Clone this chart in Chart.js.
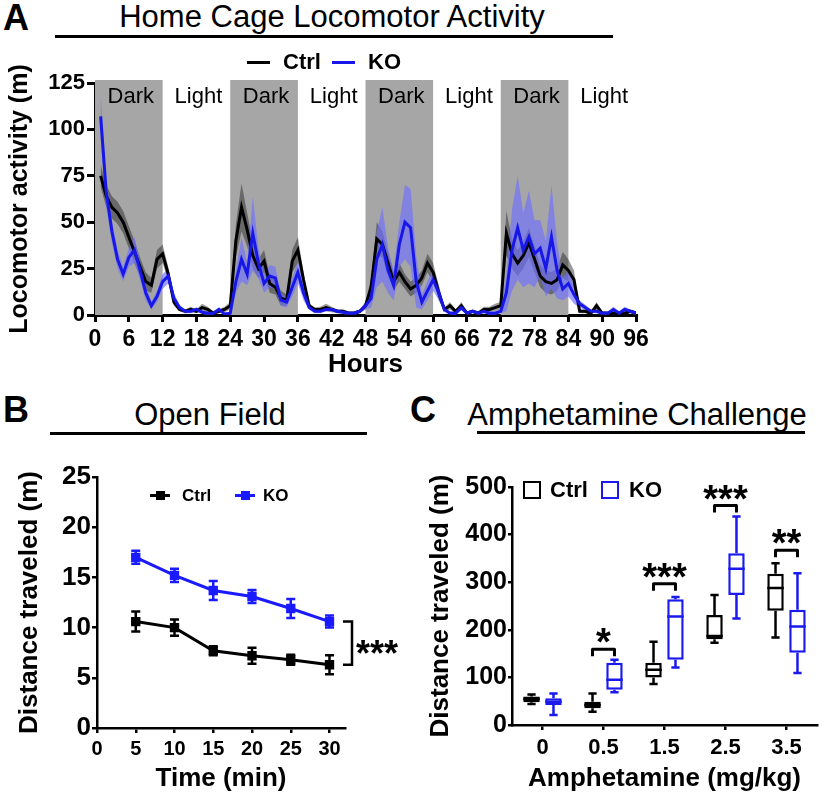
<!DOCTYPE html>
<html>
<head>
<meta charset="utf-8">
<title>Locomotor activity</title>
<script src="https://cdn.jsdelivr.net/npm/chart.js@4.4.1/dist/chart.umd.min.js"></script>
<style>
  body { margin: 0; background: #fff; }
  #fig { position: relative; width: 826px; height: 801px; overflow: hidden;
         font-family: "Liberation Sans", Arial, sans-serif; color: #000; }
  #fig canvas { position: absolute; }
  .t { position: absolute; white-space: nowrap; }
  .letter { font-size: 36px; line-height: 36px; font-weight: bold; }
  .title { font-size: 31px; line-height: 31px; transform: translateX(-50%); }
  .rule { position: absolute; height: 3px; background: #000; }
  .key22 { font-size: 22px; line-height: 22px; font-weight: bold; }
  .key17 { font-size: 17px; line-height: 17px; font-weight: bold; }
  .dash { position: absolute; height: 3px; }
  .sq { position: absolute; width: 9px; height: 9px; }
  .box { position: absolute; width: 18px; height: 18px; box-sizing: border-box; border: 2.5px solid #000; background: #fff; }
</style>
</head>
<body>
<div id="fig">
  <canvas id="chartA" width="660" height="340" style="left:0;top:40px"></canvas>
  <canvas id="chartB" width="410" height="360" style="left:0;top:440px"></canvas>
  <canvas id="chartC" width="416" height="360" style="left:410px;top:440px"></canvas>

  <!-- panel A headings -->
  <div class="t letter" style="left:3px;top:0">A</div>
  <div class="t title" style="left:332px;top:1px">Home Cage Locomotor Activity</div>
  <div class="rule" style="left:55px;top:35px;width:558px"></div>
  <div class="dash" style="left:247px;top:61px;width:23px;background:#000"></div>
  <div class="t key22" style="left:283px;top:51px">Ctrl</div>
  <div class="dash" style="left:332px;top:61px;width:23px;background:#1717e8"></div>
  <div class="t key22" style="left:368px;top:51px">KO</div>

  <!-- panel B headings -->
  <div class="t letter" style="left:3px;top:392px">B</div>
  <div class="t title" style="left:210px;top:399px">Open Field</div>
  <div class="rule" style="left:50px;top:432px;width:317px"></div>
  <div class="dash" style="left:150px;top:494px;width:20px;background:#000"></div>
  <div class="sq" style="left:155.5px;top:491px;background:#000"></div>
  <div class="t key17" style="left:182px;top:487px">Ctrl</div>
  <div class="dash" style="left:235px;top:494px;width:20px;background:#1a1aff"></div>
  <div class="sq" style="left:240.5px;top:491px;background:#1a1aff"></div>
  <div class="t key17" style="left:263px;top:487px">KO</div>

  <!-- panel C headings -->
  <div class="t letter" style="left:410px;top:392px">C</div>
  <div class="t title" style="left:637px;top:399px">Amphetamine Challenge</div>
  <div class="rule" style="left:477px;top:431px;width:328px"></div>
  <div class="box" style="left:523px;top:481px"></div>
  <div class="t key22" style="left:550px;top:479px">Ctrl</div>
  <div class="box" style="left:601px;top:481px;border-color:#1a1aee"></div>
  <div class="t key22" style="left:629px;top:479px">KO</div>
</div>

<script>
Chart.defaults.font.family = '"Liberation Sans", Arial, sans-serif'
Chart.defaults.color = '#000'
Chart.defaults.animation = false
Chart.defaults.events = []
Chart.defaults.plugins.legend.display = false
Chart.defaults.plugins.tooltip.enabled = false

// ---------------- panel A: hourly activity, hours 1..96 ----------------
const hours = Array.from({length: 96}, (_, i) => i + 1)
const ctrlMean = [75, 64, 58, 55, 50, 42, 34, 26, 18, 16, 30, 33,
  22, 7, 3, 2, 3, 2, 4, 3, 1, 2, 3, 5,
  40, 58, 46, 32, 25, 29, 17, 15, 9, 8, 29, 35,
  19, 5, 3, 3, 4, 3, 2, 2, 1, 1, 2, 5,
  15, 41, 38, 28, 18, 23, 18, 14, 16, 20, 28, 23,
  12, 3, 5, 2, 5, 1, 2, 1, 3, 3, 4, 5,
  44, 33, 28, 32, 39, 30, 21, 18, 17, 19, 27, 24,
  19, 2, 2, 1, 5, 1, 1, 1, 1, 1, 2, 1]
const ctrlSem = [6, 6, 6, 6, 6, 6, 6, 5, 5, 4, 5, 5,
  4, 2, 1, 1, 1.5, 1, 2, 1.5, 1, 1, 1.5, 2,
  9, 13, 9, 7, 5, 6, 5, 4, 4, 3, 6, 7,
  4, 1.5, 1, 1.5, 2, 1.5, 1, 1, 1, 1, 1, 2,
  5, 9, 7, 6, 5, 5, 4, 4, 4, 4, 5, 5,
  4, 1, 2, 1, 2, 1, 1, 1, 1.5, 1.5, 2, 2,
  12, 8, 7, 7, 8, 7, 6, 6, 6, 6, 7, 6,
  5, 1, 1, 1, 2, 1, 1, 1, 1, 1, 1, 1]
const koMean = [107, 66, 45, 30, 22, 31, 35, 24, 12, 5, 10, 18,
  21, 9, 4, 2, 2, 3, 1.5, 1, 1, 3, 0.5, 1,
  18, 30, 22, 44, 28, 17, 21, 20, 8, 7, 15, 23,
  12, 4, 2, 2, 3, 3, 2, 1.5, 1, 1, 2, 5,
  9, 30, 38, 24, 16, 38, 50, 47, 18, 7, 13, 19,
  12, 3, 1, 1, 4, 1, 2, 1, 2, 1, 1, 2,
  12, 35, 47, 35, 42, 33, 36, 25, 42, 24, 14, 17,
  11, 6, 4, 2, 2, 1, 1, 3, 1, 3, 2, 1]
const koSem = [12, 8, 6, 5, 4, 5, 7, 5, 4, 2, 3, 4,
  4, 3, 1.5, 1, 1, 1, 1, 1, 1, 1, 0.5, 1,
  6, 12, 6, 20, 8, 5, 6, 6, 3, 3, 5, 6,
  4, 1, 1, 1, 1, 1, 1, 1, 1, 1, 1, 2,
  5, 15, 20, 12, 8, 12, 20, 21, 14, 4, 5, 6,
  4, 1, 1, 1, 1.5, 1, 1, 1, 1, 1, 1, 1,
  10, 22, 28, 20, 25, 18, 15, 15, 28, 15, 6, 7,
  5, 2, 1.5, 1, 1, 1, 1, 1.5, 1, 1.5, 1, 1]
const darkStarts = [0, 24, 48, 72]
const cycleLabels = ['Dark', 'Light', 'Dark', 'Light', 'Dark', 'Light', 'Dark', 'Light']

// ---------------- panel B: open field ----------------
const ofTime = [5, 10, 15, 20, 25, 30]
const ofCtrl = [10.6, 10.0, 7.7, 7.2, 6.8, 6.3]
const ofCtrlSem = [1.0, 0.8, 0.45, 0.8, 0.5, 0.95]
const ofKo = [17.0, 15.2, 13.7, 13.1, 11.9, 10.6]
const ofKoSem = [0.65, 0.65, 0.95, 0.65, 0.95, 0.6]
const ofSig = '***'

// ---------------- panel C: amphetamine challenge ----------------
const doses = ['0', '0.5', '1.5', '2.5', '3.5']
const ctrlMin = [44, 28, 86, 173, 184]
const ctrlQ1 = [48, 35, 100, 180, 240]
const ctrlMed = [55, 42, 116, 187, 288]
const ctrlQ3 = [60, 49, 131, 231, 318]
const ctrlMax = [64, 66, 175, 273, 340]
const koMin = [21, 69, 121, 224, 109]
const koQ1 = [42, 74, 137, 273, 152]
const koMed = [49, 95, 228, 328, 207]
const koQ3 = [56, 131, 264, 361, 242]
const koMax = [66, 137, 269, 438, 319]
const sigText = ['', '*', '***', '***', '**']
const sigAt = [null, 159, 297, 461, 367]

const FONT = '"Liberation Sans", Arial, sans-serif'
const axisLook = (w, tl) => ({
  border: {color: '#000', width: w},
  grid: {drawOnChartArea: false, color: '#000', lineWidth: w, tickLength: tl}
})

// shaded dark phases + Dark/Light labels
const lightCycle = {
  id: 'lightCycle',
  beforeDatasetsDraw(chart) {
    const {ctx, scales: {x, y}} = chart
    ctx.save()
    ctx.fillStyle = '#a6a6a6'
    darkStarts.forEach(s => {
      const x0 = x.getPixelForValue(s)
      const x1 = x.getPixelForValue(s + 12)
      ctx.fillRect(x0, y.top - 3, x1 - x0, y.bottom - y.top + 3)
    })
    ctx.fillStyle = '#000'
    ctx.font = '22px ' + FONT
    ctx.textAlign = 'center'
    ctx.textBaseline = 'middle'
    cycleLabels.forEach((t, i) => ctx.fillText(t, x.getPixelForValue(i * 12 + 6) + 2, y.top + 14))
    ctx.restore()
  }
}

const pts = (mean, sem, sign) => mean.map((v, i) => ({x: hours[i], y: v + sign * (sem ? sem[i] : 0)}))
const bandEdge = {borderColor: 'rgba(0,0,0,0)', borderWidth: 0, pointRadius: 0}

const chartA = new Chart(document.getElementById('chartA'), {
  type: 'line',
  data: {
    datasets: [
      {label: 'Ctrl low', data: pts(ctrlMean, ctrlSem, -1), fill: false, order: 5, ...bandEdge},
      {label: 'Ctrl high', data: pts(ctrlMean, ctrlSem, 1), fill: 0, backgroundColor: 'rgba(30,30,30,0.45)', order: 4, ...bandEdge},
      {label: 'KO low', data: pts(koMean, koSem, -1), fill: false, order: 3, ...bandEdge},
      {label: 'KO high', data: pts(koMean, koSem, 1), fill: 2, backgroundColor: 'rgba(110,110,255,0.65)', order: 2, ...bandEdge},
      {label: 'Ctrl', data: pts(ctrlMean, null, 0), borderColor: '#000', borderWidth: 3, pointRadius: 0, order: 1},
      {label: 'KO', data: pts(koMean, null, 0), borderColor: '#1717e8', borderWidth: 3, pointRadius: 0, order: 0},
    ],
  },
  options: {
    responsive: false,
    layout: {autoPadding: false, padding: {top: 43, right: 24, left: 0, bottom: 0}},
    scales: {
      x: {
        type: 'linear', min: 0, max: 96, z: 1,
        ...axisLook(3, 7),
        ticks: {stepSize: 6, autoSkip: false, maxRotation: 0, padding: 4, font: {size: 23, weight: 'bold'}},
        title: {display: true, text: 'Hours', font: {size: 26, weight: 'bold'}, padding: {top: 0, bottom: 0}},
        afterFit: s => { s.height = 65 },
      },
      y: {
        min: 0, max: 125, z: 1,
        ...axisLook(3, 8),
        ticks: {stepSize: 25, padding: 2, font: {size: 22, weight: 'bold'}},
        title: {display: true, text: 'Locomotor activity (m)', font: {size: 25, weight: 'bold'}, padding: {top: 5, bottom: 0}},
        afterFit: s => { s.width = 95 },
      },
    },
  },
  plugins: [lightCycle],
})

// vertical SEM bars for panel B
const errorBars = {
  id: 'errorBars',
  afterDatasetsDraw(chart) {
    const {ctx, scales: {y}} = chart
    ctx.save()
    ctx.lineWidth = 2.5
    chart.data.datasets.forEach((ds, i) => {
      ctx.strokeStyle = ds.borderColor
      chart.getDatasetMeta(i).data.forEach((pt, j) => {
        const top = y.getPixelForValue(ds.data[j].y + ds.errors[j])
        const bot = y.getPixelForValue(ds.data[j].y - ds.errors[j])
        ctx.beginPath()
        ctx.moveTo(pt.x, top); ctx.lineTo(pt.x, bot)
        ctx.moveTo(pt.x - 4.5, top); ctx.lineTo(pt.x + 4.5, top)
        ctx.moveTo(pt.x - 4.5, bot); ctx.lineTo(pt.x + 4.5, bot)
        ctx.stroke()
      })
    })
    ctx.restore()
  }
}

const ofBracket = {
  id: 'ofBracket',
  afterDraw(chart) {
    const {ctx, chartArea, scales: {y}} = chart
    const last = ofTime.length - 1
    const yTop = y.getPixelForValue(ofKo[last])
    const yBot = y.getPixelForValue(ofCtrl[last])
    const xr = chartArea.right + 7
    ctx.save()
    ctx.strokeStyle = '#000'
    ctx.lineWidth = 2.5
    ctx.beginPath()
    ctx.moveTo(xr - 9, yTop); ctx.lineTo(xr, yTop); ctx.lineTo(xr, yBot); ctx.lineTo(xr - 9, yBot)
    ctx.stroke()
    ctx.fillStyle = '#000'
    ctx.font = 'bold 36px ' + FONT
    ctx.textAlign = 'left'
    ctx.textBaseline = 'alphabetic'
    ctx.fillText(ofSig, xr + 4, (yTop + yBot) / 2 + 2 + 21)
    ctx.restore()
  }
}

const chartB = new Chart(document.getElementById('chartB'), {
  type: 'line',
  data: {
    datasets: [
      {label: 'Ctrl', data: ofTime.map((t, i) => ({x: t, y: ofCtrl[i]})), errors: ofCtrlSem,
        borderColor: '#000', backgroundColor: '#000', borderWidth: 3, pointStyle: 'rect', pointRadius: 4.5},
      {label: 'KO', data: ofTime.map((t, i) => ({x: t, y: ofKo[i]})), errors: ofKoSem,
        borderColor: '#1a1aff', backgroundColor: '#1a1aff', borderWidth: 3, pointStyle: 'rect', pointRadius: 4.5},
    ],
  },
  options: {
    responsive: false,
    layout: {autoPadding: false, padding: {top: 37, right: 65, left: 0, bottom: 0}},
    scales: {
      x: {
        type: 'linear', min: 0, max: 32,
        ...axisLook(2.5, 5),
        ticks: {stepSize: 5, includeBounds: false, maxRotation: 0, padding: 4, font: {size: 20, weight: 'bold'}},
        afterBuildTicks: s => { s.ticks = s.ticks.filter(t => t.value <= 30) },
        title: {display: true, text: 'Time (min)', font: {size: 26, weight: 'bold'}, padding: {top: 0, bottom: 6}},
        afterFit: s => { s.height = 72 },
      },
      y: {
        min: 0, max: 25,
        ...axisLook(2.5, 5),
        ticks: {stepSize: 5, padding: 1, font: {size: 26, weight: 'bold'}},
        title: {display: true, text: 'Distance traveled (m)', font: {size: 26, weight: 'bold'}, padding: {top: 14, bottom: 0}},
        afterFit: s => { s.width = 97 },
      },
    },
  },
  plugins: [errorBars, ofBracket],
})

// whiskers + medians on top of the floating bars, then significance brackets
const boxWhiskers = {
  id: 'boxWhiskers',
  afterDatasetsDraw(chart) {
    const {ctx, scales: {y}} = chart
    ctx.save()
    ctx.lineWidth = 2.5
    chart.data.datasets.forEach((ds, i) => {
      ctx.strokeStyle = ds.borderColor
      chart.getDatasetMeta(i).data.forEach((bar, j) => {
        const half = bar.width / 2
        const cap = bar.width / 4
        const yMed = y.getPixelForValue(ds.med[j])
        const yQ1 = y.getPixelForValue(ds.data[j][0])
        const yQ3 = y.getPixelForValue(ds.data[j][1])
        const yMin = y.getPixelForValue(ds.min[j])
        const yMax = y.getPixelForValue(ds.max[j])
        ctx.beginPath()
        ctx.moveTo(bar.x - half, yMed); ctx.lineTo(bar.x + half, yMed)
        ctx.moveTo(bar.x, yQ3); ctx.lineTo(bar.x, yMax)
        ctx.moveTo(bar.x - cap, yMax); ctx.lineTo(bar.x + cap, yMax)
        ctx.moveTo(bar.x, yQ1); ctx.lineTo(bar.x, yMin)
        ctx.moveTo(bar.x - cap, yMin); ctx.lineTo(bar.x + cap, yMin)
        ctx.stroke()
      })
    })
    // significance brackets between Ctrl and KO boxes
    const m0 = chart.getDatasetMeta(0).data
    const m1 = chart.getDatasetMeta(1).data
    ctx.strokeStyle = '#000'
    ctx.fillStyle = '#000'
    ctx.lineWidth = 3
    ctx.lineJoin = 'round'
    ctx.font = 'bold 38px ' + FONT
    ctx.textAlign = 'center'
    ctx.textBaseline = 'alphabetic'
    sigText.forEach((txt, j) => {
      if (!txt) return
      const yb = y.getPixelForValue(sigAt[j])
      ctx.beginPath()
      ctx.moveTo(m0[j].x, yb + 7); ctx.lineTo(m0[j].x, yb); ctx.lineTo(m1[j].x, yb); ctx.lineTo(m1[j].x, yb + 7)
      ctx.stroke()
      ctx.fillText(txt, (m0[j].x + m1[j].x) / 2, yb + 6)
    })
    ctx.restore()
  }
}

const chartC = new Chart(document.getElementById('chartC'), {
  type: 'bar',
  data: {
    labels: doses,
    datasets: [
      {label: 'Ctrl', data: doses.map((d, i) => [ctrlQ1[i], ctrlQ3[i]]), min: ctrlMin, med: ctrlMed, max: ctrlMax,
        borderColor: '#000', backgroundColor: '#fff', borderWidth: 2.5, borderSkipped: false,
        categoryPercentage: 0.72, barPercentage: 0.75},
      {label: 'KO', data: doses.map((d, i) => [koQ1[i], koQ3[i]]), min: koMin, med: koMed, max: koMax,
        borderColor: '#1a1aee', backgroundColor: '#fff', borderWidth: 2.5, borderSkipped: false,
        categoryPercentage: 0.72, barPercentage: 0.75},
    ],
  },
  options: {
    responsive: false,
    layout: {autoPadding: false, padding: {top: 47, right: 9, left: 0, bottom: 0}},
    scales: {
      x: {
        offset: true,
        border: {color: '#000', width: 2.5},
        grid: {offset: false, drawOnChartArea: false, color: '#000', lineWidth: 2.5, tickLength: 5},
        ticks: {maxRotation: 0, padding: 5, font: {size: 22, weight: 'bold'}},
        title: {display: true, text: 'Amphetamine (mg/kg)', font: {size: 26, weight: 'bold'}, padding: {top: 0, bottom: 6}},
        afterFit: s => { s.height = 75 },
      },
      y: {
        min: 0, max: 500,
        ...axisLook(2.5, 4),
        ticks: {stepSize: 100, padding: 1, font: {size: 25, weight: 'bold'}},
        title: {display: true, text: 'Distance traveled (m)', font: {size: 26, weight: 'bold'}, padding: {top: 15, bottom: 0}},
        afterFit: s => { s.width = 102 },
      },
    },
  },
  plugins: [boxWhiskers],
})
</script>
</body>
</html>
